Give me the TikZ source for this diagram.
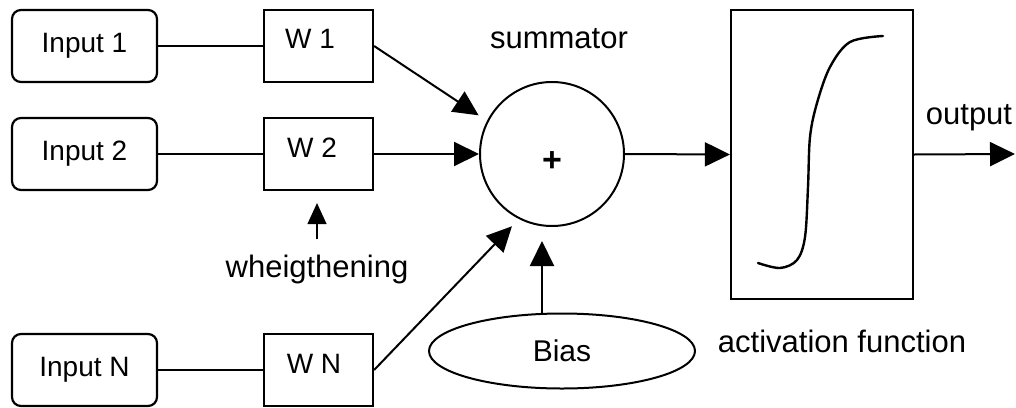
\documentclass[tikz,border=0pt]{standalone}
\usepackage{fontspec}
\setmainfont{Liberation Sans}
\usetikzlibrary{arrows.meta,shapes.geometric,calc}
\begin{document}
\begin{tikzpicture}[x=1pt,y=-1pt,
  inbox/.style={draw, line width=2.2pt, rounded corners=9pt, minimum width=145pt, minimum height=72pt, inner sep=0pt, font=\fontsize{28}{32}\selectfont},
  wbox/.style={draw, line width=2.2pt, minimum width=109pt, minimum height=72pt, inner sep=0pt},
  lbl/.style={font=\fontsize{28}{32}\selectfont, anchor=base, inner sep=0pt},
  free/.style={font=\fontsize{31}{36}\selectfont, anchor=base, inner sep=0pt},
  conn/.style={line width=2pt},
  arr/.style={line width=2pt, -{Triangle[length=25pt,width=24pt]}},
  thinarr/.style={line width=1.3pt, -{Triangle[length=21pt,width=19pt]}},
]
\useasboundingbox (0,0) rectangle (1016,407);

\node[inbox] (in1) at (84.5,46) {Input 1};
\node[inbox] (in2) at (84.5,154) {Input 2};
\node[inbox] (inN) at (84.5,370) {Input N};

\node[wbox] (w1) at (318.5,46) {};
\node[wbox] (w2) at (318.5,154) {};
\node[wbox] (wN) at (318.5,370) {};
\node[lbl] (w1t) at (310,48) {W 1};
\node[lbl] (w2t) at (312,157) {W 2};
\node[lbl] (wNt) at (314,373) {W N};

\node[circle, draw, line width=2pt, minimum size=144pt, inner sep=0pt] (sum) at (552,154) {};
\node[font=\bfseries\fontsize{34}{38}\selectfont, inner sep=0pt] (plus) at (552,162) {+};
\node[free] (sumt) at (559,48) {summator};

\node[ellipse, draw, line width=2pt, minimum width=266pt, minimum height=75pt, inner sep=0pt, font=\fontsize{30}{34}\selectfont] (bias) at (562,351) {Bias};

\node[draw, line width=2.2pt, minimum width=182pt, minimum height=289pt, inner sep=0pt] (act) at (822,154.5) {};
\node[free] (actt) at (842,352) {activation function};
\node[free] (outt) at (969,124) {output};
\node[free] (wt) at (317,277) {wheigthening};
\coordinate (outend) at (1015,154);

\draw[conn] (in1.east) -- (w1.west);
\draw[conn] (in2.east) -- (w2.west);
\draw[conn] (inN.east) -- (wN.west);

\draw[arr, shorten >=10pt] (w1.east) -- (sum.153);
\draw[arr] (w2.east) -- (sum.west);
\draw[arr, shorten >=10pt] (wN.east) -- (sum.243);
\draw[arr] ([xshift=-20pt]bias.north) -- ([xshift=-10pt,yshift=-14pt]sum.south);
\draw[thinarr] ([yshift=15pt]wt.north) -- ($(wt.north |- w2.south)+(0,12)$);
\draw[arr] (sum.east) -- (act.west);
\draw[arr] (act.east) -- (outend);

\draw[line width=2.4pt, line cap=round] plot[smooth, tension=0.55] coordinates {(758,263) (780,268) (797,260) (805,237) (808,187) (810,137) (817,103) (830,67) (850,42) (883,36)};
\end{tikzpicture}
\end{document}
